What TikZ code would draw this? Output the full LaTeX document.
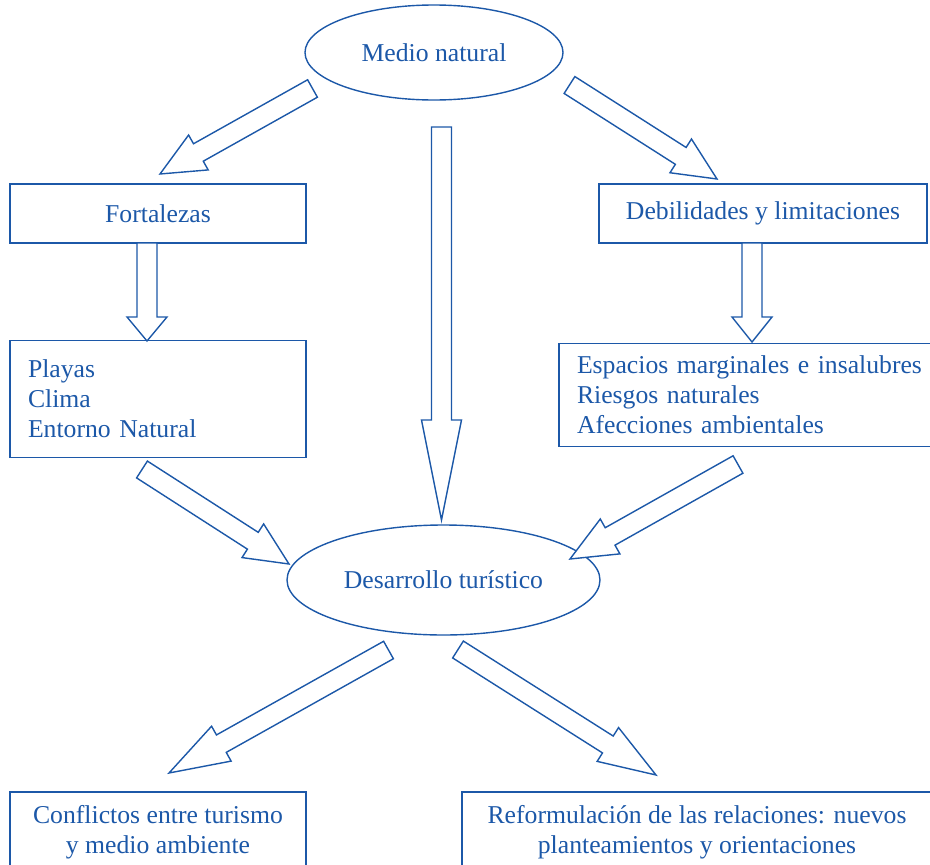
\documentclass[tikz,border=0pt]{standalone}
\usepackage{fontspec}
\setmainfont{Liberation Serif}
\usetikzlibrary{calc,shapes.geometric}

\definecolor{azul}{RGB}{28,88,168}

% block arrow: tail, tip, head length
\newcommand{\fatarrow}[3]{%
  \draw[fat] let \p1=(#1), \p2=(#2), \n1={atan2(\y2-\y1,\x2-\x1)}, \n2={veclen(\x2-\x1,\y2-\y1)} in
    [shift={(\p1)}, rotate=\n1]
    (0pt,-10pt) -- ({\n2-#3pt},-10pt) -- ({\n2-#3pt},-20pt) -- ({\n2},0pt)
    -- ({\n2-#3pt},20pt) -- ({\n2-#3pt},10pt) -- (0pt,10pt) -- cycle;}

\begin{document}
\begin{tikzpicture}[x=1pt, y=-1pt, font=\fontsize{25.7}{30}\selectfont, text=azul]
    % Styles
    \tikzset{
      oval/.style={ellipse, draw=azul, line width=1.4pt, inner sep=0pt},
      box/.style={rectangle, draw=azul, line width=1.6pt, inner sep=0pt},
      list/.style={box, align=left, inner xsep=18pt},
      fat/.style={draw=azul, line width=1.4pt, line join=miter, fill=white}
    }
    \useasboundingbox (0,0) rectangle (930,865);
    \clip (0,0) rectangle (930,865);

    % Nodes
    \node[oval, minimum width=258pt, minimum height=95pt] (medio) at (434,52.5) {Medio natural};
    \node[box, minimum width=296pt, minimum height=59pt] (forta) at (158,213.5) {Fortalezas};
    \node[box, minimum width=328pt, minimum height=59pt] (debil) at (763,213.5) {Debilidades y limitaciones};
    \node[list, text width=260pt, minimum height=117pt] (playas) at (158,399) {Playas\\Clima\\Entorno Natural};
    \node[list, text width=390pt, minimum height=103pt] (espacios) at (772,395) {Espacios marginales e insalubres\\Riesgos naturales\\Afecciones ambientales};
    \node[oval, minimum width=313pt, minimum height=110pt] (desarrollo) at (443.5,580) {Desarrollo turístico};
    \node[box, align=center, minimum width=296pt, minimum height=80pt] (conflictos) at (158,832) {Conflictos entre turismo\\y medio ambiente};
    \node[box, align=center, minimum width=470pt, minimum height=80pt] (reform) at (697,832) {Reformulación de las relaciones: nuevos\\planteamientos y orientaciones};

    % Arrow ends
    \coordinate (t1) at (312.5,88.5);  \coordinate (h1) at (160,174);
    \coordinate (t2) at (569.5,85);    \coordinate (h2) at (717,179);
    \coordinate (t3) at (441.5,127);   \coordinate (h3) at (441.5,520);
    \coordinate (t4) at (147,243);     \coordinate (h4) at (147,341);
    \coordinate (t5) at (752,243);     \coordinate (h5) at (752,342);
    \coordinate (t6) at (142,469.5);   \coordinate (h6) at (289,564);
    \coordinate (t7) at (738,464.5);   \coordinate (h7) at (570,559);
    \coordinate (t8) at (388.5,650);   \coordinate (h8) at (169,773);
    \coordinate (t9) at (458,649.5);   \coordinate (h9) at (656,775);

    % Arrows
    \fatarrow{t1}{h1}{44}
    \fatarrow{t2}{h2}{43}
    \fatarrow{t3}{h3}{100}
    \fatarrow{t4}{h4}{24}
    \fatarrow{t5}{h5}{25}
    \fatarrow{t6}{h6}{43}
    \fatarrow{t7}{h7}{46}
    \fatarrow{t8}{h8}{60}
    \fatarrow{t9}{h9}{57}
\end{tikzpicture}
\end{document}
